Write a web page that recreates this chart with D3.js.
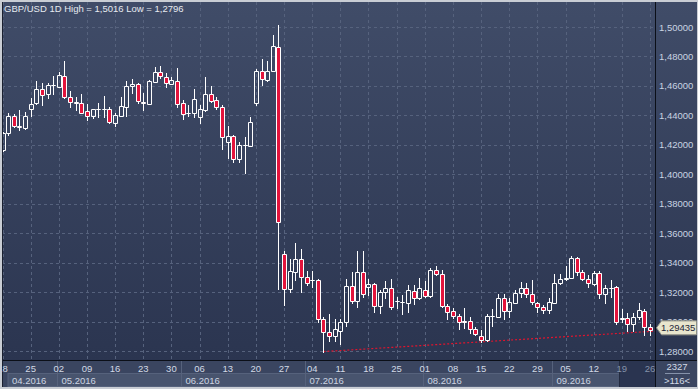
<!DOCTYPE html>
<html>
<head>
<meta charset="utf-8">
<script src="https://cdn.jsdelivr.net/npm/d3@7"></script>
<style>
  html, body { margin: 0; padding: 0; background: #c9cdd4; }
  svg { display: block; font-family: "Liberation Sans", Arial, sans-serif; font-size: 9.5px; }
</style>
</head>
<body>
<svg id="chart" width="698" height="389"></svg>
<script>
const TITLE = "GBP/USD 1D High = 1,5016 Low = 1,2796";
const FIRST_DAY = "2016-04-18";
const LAST_DAY = "2016-09-26";

const OPEN = [
  1.4168, 1.4277, 1.4395, 1.4331, 1.4315, 1.4444, 1.4481, 1.4576, 1.4542, 1.4607,
  1.4590, 1.4667, 1.4526, 1.4494, 1.4481, 1.4427, 1.4399, 1.4444, 1.4444, 1.4444,
  1.4345, 1.4397, 1.4458, 1.4597, 1.4612, 1.4494, 1.4478, 1.4628, 1.4692, 1.4662,
  1.4610, 1.4635, 1.4481, 1.4417, 1.4417, 1.4386, 1.4435, 1.4544, 1.4503, 1.4454,
  1.4220, 1.4263, 1.4107, 1.4197, 1.4195, 1.4481, 1.4699, 1.4641, 1.4703, 1.4866,
  1.3461, 1.3220, 1.3338, 1.3427, 1.3301, 1.3283, 1.3284, 1.3018, 1.2932, 1.2905,
  1.2934, 1.2998, 1.3243, 1.3141, 1.3338, 1.3236, 1.3252, 1.3107, 1.3202, 1.3229,
  1.3137, 1.3134, 1.3129, 1.3209, 1.3161, 1.3216, 1.3175, 1.3352, 1.3325, 1.3107,
  1.3072, 1.3039, 1.3002, 1.3002, 1.2948, 1.2903, 1.2876, 1.3038, 1.3034, 1.3161,
  1.3070, 1.3129, 1.3195, 1.3229, 1.3188, 1.3127, 1.3100, 1.3080, 1.3129, 1.3263,
  1.3292, 1.3297, 1.3433, 1.3335, 1.3290, 1.3256, 1.3331, 1.3188, 1.3228, 1.3233,
  1.3020, 1.3022, 1.2984, 1.3029, 1.3070, 1.2960
];
const HIGH = [
  1.4290, 1.4413, 1.4406, 1.4435, 1.4424, 1.4515, 1.4633, 1.4619, 1.4617, 1.4667,
  1.4694, 1.4769, 1.4565, 1.4526, 1.4544, 1.4476, 1.4440, 1.4485, 1.4531, 1.4454,
  1.4413, 1.4522, 1.4631, 1.4644, 1.4620, 1.4549, 1.4639, 1.4730, 1.4737, 1.4685,
  1.4662, 1.4719, 1.4503, 1.4469, 1.4578, 1.4469, 1.4660, 1.4599, 1.4522, 1.4469,
  1.4327, 1.4265, 1.4218, 1.4254, 1.4386, 1.4712, 1.4780, 1.4767, 1.4946, 1.5016,
  1.3476, 1.3422, 1.3531, 1.3494, 1.3342, 1.3342, 1.3291, 1.3029, 1.3048, 1.3018,
  1.3018, 1.3290, 1.3338, 1.3476, 1.3476, 1.3290, 1.3261, 1.3211, 1.3272, 1.3290,
  1.3170, 1.3177, 1.3245, 1.3245, 1.3297, 1.3274, 1.3365, 1.3374, 1.3347, 1.3116,
  1.3093, 1.3052, 1.3093, 1.3034, 1.2966, 1.2944, 1.3048, 1.3087, 1.3184, 1.3184,
  1.3161, 1.3211, 1.3270, 1.3263, 1.3279, 1.3136, 1.3114, 1.3157, 1.3320, 1.3324,
  1.3374, 1.3444, 1.3437, 1.3347, 1.3313, 1.3340, 1.3340, 1.3245, 1.3279, 1.3243,
  1.3087, 1.3056, 1.3056, 1.3124, 1.3087, 1.2986
];
const LOW = [
  1.4155, 1.4270, 1.4322, 1.4299, 1.4308, 1.4395, 1.4474, 1.4467, 1.4519, 1.4542,
  1.4590, 1.4519, 1.4454, 1.4435, 1.4413, 1.4369, 1.4381, 1.4390, 1.4390, 1.4349,
  1.4331, 1.4397, 1.4397, 1.4553, 1.4481, 1.4435, 1.4476, 1.4628, 1.4651, 1.4594,
  1.4610, 1.4458, 1.4376, 1.4395, 1.4390, 1.4349, 1.4431, 1.4492, 1.4440, 1.4172,
  1.4111, 1.4084, 1.4084, 1.4009, 1.4195, 1.4471, 1.4608, 1.4635, 1.4703, 1.3224,
  1.3109, 1.3199, 1.3279, 1.3199, 1.3245, 1.3233, 1.2995, 1.2796, 1.2871, 1.2871,
  1.2848, 1.2968, 1.3124, 1.3097, 1.3165, 1.3182, 1.3068, 1.3061, 1.3161, 1.3087,
  1.3091, 1.3052, 1.3063, 1.3116, 1.3154, 1.3165, 1.3165, 1.3318, 1.3097, 1.3018,
  1.3025, 1.2948, 1.2957, 1.2925, 1.2907, 1.2862, 1.2871, 1.2973, 1.3029, 1.3018,
  1.3029, 1.3125, 1.3170, 1.3165, 1.3120, 1.3063, 1.3059, 1.3061, 1.3125, 1.3252,
  1.3279, 1.3295, 1.3313, 1.3279, 1.3233, 1.3250, 1.3161, 1.3127, 1.3165, 1.2986,
  1.2995, 1.2939, 1.2939, 1.3018, 1.2912, 1.2912
];
const CLOSE = [
  1.4277, 1.4395, 1.4331, 1.4318, 1.4395, 1.4474, 1.4576, 1.4535, 1.4603, 1.4609,
  1.4671, 1.4526, 1.4492, 1.4481, 1.4417, 1.4399, 1.4440, 1.4446, 1.4446, 1.4356,
  1.4401, 1.4463, 1.4599, 1.4610, 1.4499, 1.4481, 1.4631, 1.4692, 1.4667, 1.4617,
  1.4639, 1.4474, 1.4408, 1.4419, 1.4508, 1.4440, 1.4544, 1.4499, 1.4454, 1.4250,
  1.4263, 1.4107, 1.4202, 1.4199, 1.4354, 1.4699, 1.4644, 1.4703, 1.4869, 1.3675,
  1.3220, 1.3340, 1.3424, 1.3301, 1.3263, 1.3285, 1.3018, 1.2927, 1.2903, 1.2950,
  1.2998, 1.3243, 1.3141, 1.3338, 1.3188, 1.3252, 1.3107, 1.3204, 1.3229, 1.3102,
  1.3140, 1.3135, 1.3216, 1.3161, 1.3229, 1.3175, 1.3352, 1.3325, 1.3107, 1.3063,
  1.3036, 1.2995, 1.3000, 1.2948, 1.2914, 1.2876, 1.3039, 1.3040, 1.3161, 1.3073,
  1.3134, 1.3195, 1.3229, 1.3188, 1.3131, 1.3102, 1.3077, 1.3134, 1.3263, 1.3288,
  1.3293, 1.3433, 1.3335, 1.3290, 1.3263, 1.3331, 1.3188, 1.3229, 1.3229, 1.2995,
  1.3022, 1.2984, 1.3034, 1.3075, 1.2966, 1.29435
];

const PRICE_TICKS = [1.28, 1.30, 1.32, 1.34, 1.36, 1.38, 1.40, 1.42, 1.44, 1.46, 1.48, 1.50];
const MONTH_LABELS = ["04.2016", "05.2016", "06.2016", "07.2016", "08.2016", "09.2016"];
const TREND_POINTS = [{ day: "2016-07-06", value: 1.2796 }, { day: "2016-08-15", value: 1.2862 }];
const LAST_PRICE = 1.29435;
const BAR_TOTAL = "2327";
const BARS_VISIBLE = ">116<";

const PLOT = { left: 2, top: 2, right: 655, bottom: 360 };
const FRAME = { right: 697, bottom: 387 };
const RED = "#e3143c";
const GRID = "#56627d";

const parseDay = d3.timeParse("%Y-%m-%d");
const dayKey = d3.timeFormat("%Y-%m-%d");
const days = d3.timeDay.range(parseDay(FIRST_DAY), d3.timeDay.offset(parseDay(LAST_DAY), 1))
  .filter(d => d.getDay() !== 0 && d.getDay() !== 6);

const bars = days.map((d, i) => ({
  date: d, key: dayKey(d), o: OPEN[i], h: HIGH[i], l: LOW[i], c: CLOSE[i]
}));

const x = d3.scalePoint().domain(bars.map(d => d.key)).range([2.5, 650]);
const y = d3.scaleLinear().domain([1.28, 1.50]).range([351, 27]);
const fmtPrice = v => d3.format(".5f")(v).replace(".", ",");

const svg = d3.select("#chart");
const defs = svg.append("defs");
const grad = defs.append("linearGradient").attr("id", "bg").attr("x1", 0).attr("y1", 0).attr("x2", 0).attr("y2", 1);
grad.append("stop").attr("offset", "0%").attr("stop-color", "#404c68");
grad.append("stop").attr("offset", "100%").attr("stop-color", "#2b3550");
defs.append("clipPath").attr("id", "plot-clip").append("rect")
  .attr("x", PLOT.left).attr("y", PLOT.top)
  .attr("width", PLOT.right - PLOT.left).attr("height", PLOT.bottom - PLOT.top);
defs.append("clipPath").attr("id", "axis-clip").append("rect")
  .attr("x", PLOT.left).attr("y", PLOT.bottom)
  .attr("width", PLOT.right - PLOT.left).attr("height", FRAME.bottom - PLOT.bottom);

// background
svg.append("rect").attr("x", PLOT.left).attr("y", PLOT.top)
  .attr("width", FRAME.right - PLOT.left).attr("height", PLOT.bottom - PLOT.top)
  .attr("fill", "url(#bg)");
svg.append("rect").attr("x", PLOT.left).attr("y", PLOT.bottom)
  .attr("width", FRAME.right - PLOT.left).attr("height", FRAME.bottom - PLOT.bottom)
  .attr("fill", "#3a4560");

const plot = svg.append("g").attr("clip-path", "url(#plot-clip)");

// grid
PRICE_TICKS.forEach(v => {
  const yy = Math.round(y(v)) + 0.5;
  plot.append("line").attr("x1", PLOT.left).attr("x2", PLOT.right).attr("y1", yy).attr("y2", yy)
    .attr("stroke", GRID).attr("stroke-dasharray", "3,3");
});
const mondays = bars.filter(d => d.date.getDay() === 1);
mondays.forEach(d => {
  const xx = Math.round(x(d.key)) + 0.5;
  plot.append("line").attr("x1", xx).attr("x2", xx).attr("y1", PLOT.top).attr("y2", PLOT.bottom)
    .attr("stroke", GRID).attr("stroke-dasharray", "3,3");
});

// trend line through the two lows
const t0 = TREND_POINTS[0], t1 = TREND_POINTS[1];
const slope = (y(t1.value) - y(t0.value)) / (x(t1.day) - x(t0.day));
plot.append("line")
  .attr("x1", x(t0.day)).attr("y1", y(t0.value))
  .attr("x2", PLOT.right).attr("y2", y(t0.value) + slope * (PLOT.right - x(t0.day)))
  .attr("stroke", "#e0142e").attr("stroke-width", 1.2).attr("stroke-dasharray", "2,2");

// candles
plot.selectAll("g.bar").data(bars).join("g").attr("class", "bar").each(function (d) {
  const g = d3.select(this);
  const cx = Math.round(x(d.key));
  const yt = Math.round(y(Math.max(d.o, d.c)));
  const yb = Math.round(y(Math.min(d.o, d.c)));
  const yh = Math.round(y(d.h));
  const yl = Math.round(y(d.l));
  const wx = cx + 0.5;
  if (yh < yt) g.append("line").attr("x1", wx).attr("x2", wx).attr("y1", yh).attr("y2", yt).attr("stroke", "#fff");
  if (yl > yb) g.append("line").attr("x1", wx).attr("x2", wx).attr("y1", yb + 1).attr("y2", yl + 1).attr("stroke", "#fff");
  const x0 = cx - 1.5, x1 = cx + 2.5;
  g.append("path")
    .attr("d", `M${x0},${yt + 0.5}H${x1}V${yb + 0.5}H${x0}Z`)
    .attr("fill", d.c < d.o ? RED : "none")
    .attr("stroke", "#fff");
});

// frame lines
svg.append("line").attr("x1", PLOT.right + 0.5).attr("x2", PLOT.right + 0.5).attr("y1", PLOT.top).attr("y2", FRAME.bottom)
  .attr("stroke", "#0b0f18");
svg.append("line").attr("x1", PLOT.left).attr("x2", FRAME.right).attr("y1", PLOT.bottom + 0.5).attr("y2", PLOT.bottom + 0.5)
  .attr("stroke", "#0b0f18");
svg.append("line").attr("x1", PLOT.left + 0.5).attr("x2", PLOT.left + 0.5).attr("y1", PLOT.top).attr("y2", FRAME.bottom)
  .attr("stroke", "#1a2030");

// title
svg.append("text").attr("x", 4).attr("y", 11.5).attr("fill", "#e6eaf0").text(TITLE);

// price axis
PRICE_TICKS.forEach(v => {
  svg.append("text").attr("x", 659).attr("y", y(v) + 3.5).attr("fill", "#c9d3e2").text(fmtPrice(v));
});

// last price marker
const ly = y(LAST_PRICE) - 2;
svg.append("path")
  .attr("d", `M656.5,${ly}L661.5,${ly - 7}H696.5V${ly + 7}H661.5Z`)
  .attr("fill", "#e8e5cd").attr("stroke", "#8d8f86");
svg.append("text").attr("x", 661).attr("y", ly + 3.5).attr("fill", "#1c2436").text(fmtPrice(LAST_PRICE));

// date axis
const axis = svg.append("g").attr("clip-path", "url(#axis-clip)");
const firstIdx = MONTH_LABELS.map(m => bars.findIndex(d => d3.timeFormat("%m.%Y")(d.date) === m));
MONTH_LABELS.forEach((m, k) => {
  const xs = k === 0 ? 8 : Math.round(x(bars[firstIdx[k]].key)) - 1.5;
  const xe = k === MONTH_LABELS.length - 1 ? PLOT.right : Math.round(x(bars[firstIdx[k + 1]].key)) - 1.5;
  axis.append("rect").attr("x", xs).attr("y", 373.5).attr("width", xe - xs).attr("height", 13)
    .attr("fill", "#48546e").attr("stroke", "#56627c");
  if (k > 0) {
    axis.append("line").attr("x1", xs).attr("x2", xs).attr("y1", PLOT.bottom + 1).attr("y2", 373.5)
      .attr("stroke", "#56627c");
  }
  axis.append("text").attr("x", xs + 4).attr("y", 383.5).attr("fill", "#cdd5e2").text(m);
});
// last week shaded
const shadeX = Math.round(x(mondays[mondays.length - 2].key)) - 2.5;
axis.append("rect").attr("x", shadeX).attr("y", PLOT.bottom + 1)
  .attr("width", PLOT.right - shadeX).attr("height", FRAME.bottom - PLOT.bottom - 1)
  .attr("fill", "#2a3450");
axis.append("line").attr("x1", shadeX).attr("x2", shadeX).attr("y1", PLOT.bottom + 1).attr("y2", FRAME.bottom)
  .attr("stroke", "#232b40");

mondays.forEach(d => {
  axis.append("text").attr("x", x(d.key)).attr("y", 371.5).attr("text-anchor", "middle")
    .attr("fill", x(d.key) > shadeX ? "#8592aa" : "#d2dae6")
    .text(d3.timeFormat("%d")(d.date));
});

// info corner
svg.append("text").attr("x", 677).attr("y", 370).attr("text-anchor", "middle").attr("fill", "#d2dae6").text(BAR_TOTAL);
svg.append("line").attr("x1", 665).attr("x2", 690).attr("y1", 373.5).attr("y2", 373.5).attr("stroke", "#8592aa");
svg.append("text").attr("x", 677).attr("y", 384).attr("text-anchor", "middle").attr("fill", "#d2dae6").text(BARS_VISIBLE);
</script>
</body>
</html>
